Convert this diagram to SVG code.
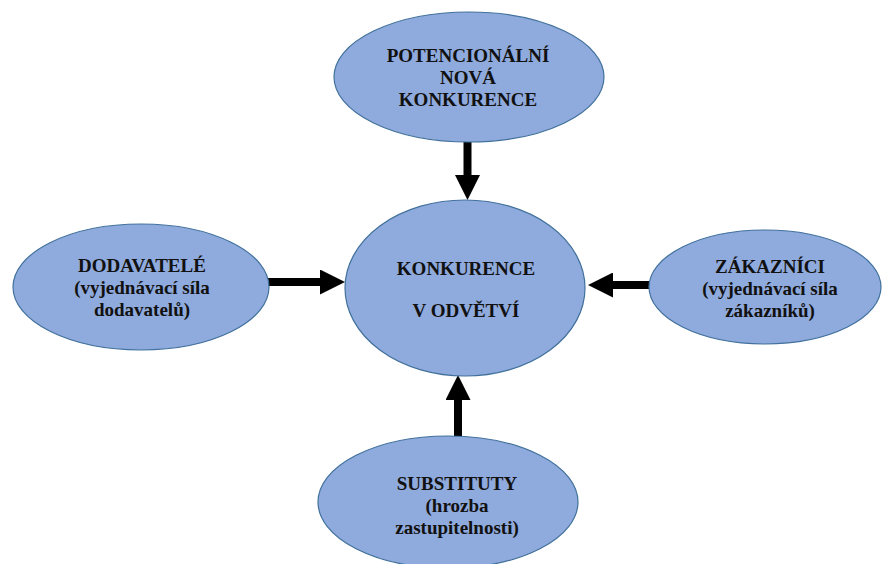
<svg xmlns="http://www.w3.org/2000/svg" width="882" height="564" viewBox="0 0 882 564">
<style>
.node{fill:#8FAADC;stroke:#41719C;stroke-width:1.2}
.t{font-family:"Liberation Serif","Times New Roman",serif;font-weight:bold;font-size:19px;fill:#111;text-anchor:middle}
.arr{stroke:#000;stroke-width:8;fill:none;marker-end:url(#head)}
</style>
<defs>
<marker id="head" markerUnits="userSpaceOnUse" viewBox="0 0 25 25" refX="3" refY="12.5" markerWidth="25" markerHeight="25" orient="auto">
<path d="M0,0 L25,12.5 L0,25 z" fill="#000"/>
</marker>
</defs>
<rect width="882" height="564" fill="#fff"/>
<g id="connectors">
<line class="arr" x1="467.5" y1="140" x2="467.5" y2="178"/>
<line class="arr" x1="268" y1="282" x2="323" y2="282"/>
<line class="arr" x1="650" y1="285" x2="610" y2="285"/>
<line class="arr" x1="458" y1="438" x2="458" y2="397"/>
</g>
<g id="potencionalni">
<ellipse class="node" cx="469" cy="77" rx="135" ry="65"/>
<text class="t" x="468" y="62">POTENCIONÁLNÍ</text>
<text class="t" x="468" y="84">NOVÁ</text>
<text class="t" x="468" y="106">KONKURENCE</text>
</g>
<g id="konkurence">
<ellipse class="node" cx="465" cy="288" rx="120" ry="88"/>
<text class="t" x="466" y="275">KONKURENCE</text>
<text class="t" x="466" y="317">V ODVĚTVÍ</text>
</g>
<g id="dodavatele">
<ellipse class="node" cx="141" cy="287" rx="128" ry="63"/>
<text class="t" x="142" y="272">DODAVATELÉ</text>
<text class="t" x="142" y="294">(vyjednávací síla</text>
<text class="t" x="142" y="316">dodavatelů)</text>
</g>
<g id="zakaznici">
<ellipse class="node" cx="765" cy="287" rx="116" ry="57"/>
<text class="t" x="770" y="273">ZÁKAZNÍCI</text>
<text class="t" x="770" y="295">(vyjednávací síla</text>
<text class="t" x="770" y="317">zákazníků)</text>
</g>
<g id="substituty">
<ellipse class="node" cx="448" cy="502" rx="130" ry="66"/>
<text class="t" x="457" y="490">SUBSTITUTY</text>
<text class="t" x="457" y="512">(hrozba</text>
<text class="t" x="457" y="534">zastupitelnosti)</text>
</g>
</svg>
